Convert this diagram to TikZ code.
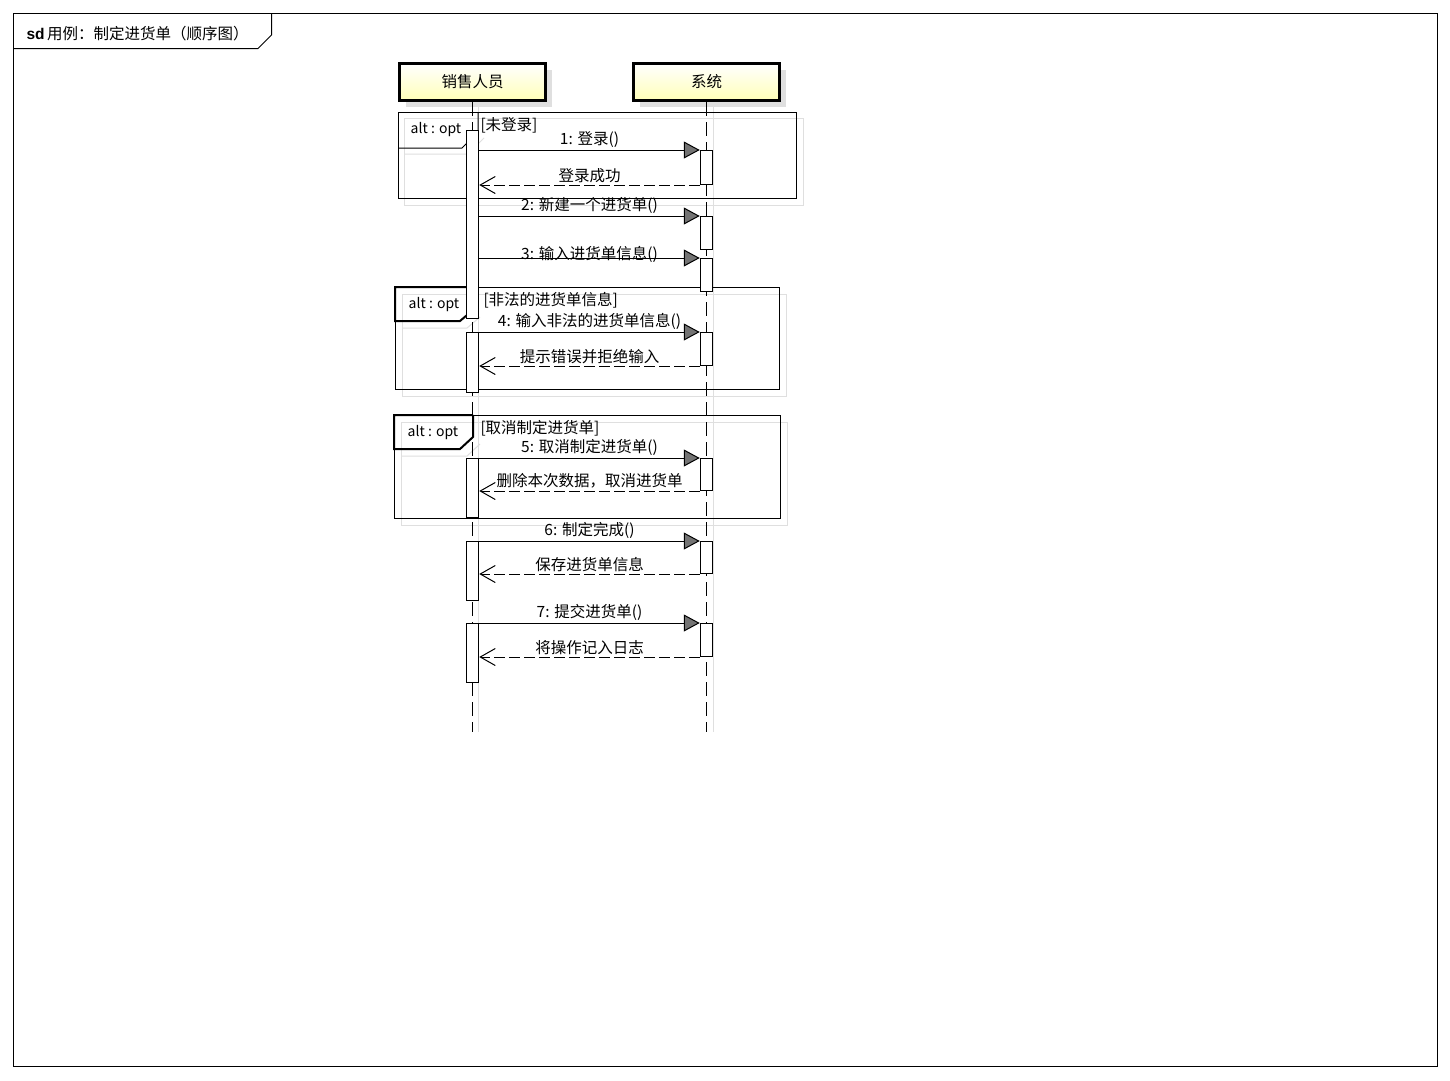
\documentclass[tikz,border=0pt]{standalone}
\usepackage{fontspec}
\setmainfont{Noto Sans CJK SC}
\newfontfamily\sdfont{Liberation Sans}
\usepackage{tikz}
\usetikzlibrary{arrows.meta, shadows}
\colorlet{colorHead}{yellow!28}
\colorlet{colorShade}{gray!25}
\colorlet{colorTip}{black!55}
\tikzset{
  head/.style={draw, line width=3.2pt, minimum width=146pt, minimum height=37pt, top color=white, bottom color=colorHead,
    general shadow={fill=colorShade, shadow xshift=6pt, shadow yshift=-6pt}},
  life/.style={dash pattern=on 14pt off 6pt},
  lifeshade/.style={colorShade},
  act/.style={draw, fill=white, minimum width=12.5pt, inner sep=0pt, anchor=north},
  frag/.style={draw, anchor=north west, inner sep=0pt},
  fragshade/.style={draw=colorShade},
  tab/.style={font=\fontsize{14}{16}\selectfont},
  call/.style={-{Triangle[length=16pt, width=17pt, fill=colorTip]}},
  reply/.style={dash pattern=on 11pt off 4pt, -{Straight Barb[length=15pt, width=17pt]}},
  msg/.style={midway, above=1pt, inner sep=1pt}
}

\begin{document}
\begin{tikzpicture}[x=1pt, y=-1pt, line width=1pt, every node/.style={font=\fontsize{15.5}{18}\selectfont}]
\useasboundingbox[fill=white] (0,0) rectangle (1450,1080);
\draw (13.5,13.5) rectangle (1437.5,1066.5);
\draw (13.5,48.5) -- (258,48.5) -- (271.5,35) -- (271.5,13.5);
\node[anchor=west, inner sep=0pt] (title) at (26,34) {{\sdfont\bfseries sd}\,用例：制定进货单（顺序图）};

\draw[fragshade] (404,118) rectangle (803,205);
\draw[fragshade] (404,154) -- (468,154) -- (484,138);
\draw[fragshade] (402,294) rectangle (786,396);
\draw[fragshade] (402,328) -- (467,328) -- (480,317);
\draw[fragshade] (401,422) rectangle (787,525);
\draw[fragshade] (401,456) -- (467,456) -- (480,444);

\node[head] (seller) at (472.5,82) {销售人员};
\node[head] (system) at (706.5,82) {\raisebox{3pt}{系统}};
\coordinate (sellerEnd) at (472.5,732);
\coordinate (systemEnd) at (706.5,732);
\draw[lifeshade] ([xshift=6pt]seller.south) -- ([xshift=6pt]sellerEnd);
\draw[lifeshade] ([xshift=6.5pt]system.south) -- ([xshift=6.5pt]systemEnd);
\draw[life] (seller) -- (sellerEnd);
\draw[life] (system) -- (systemEnd);

\node[frag, minimum width=398pt, minimum height=86pt] (f1) at (398,112) {};
\draw (f1.north west) ++(0,36) -- ++(64,0) -- ++(16,-16) -- ++(0,-20);
\node[tab] (f1tab) at (436,130) {alt : opt};
\node[anchor=west, inner sep=0pt] (f1cond) at (480,125) {[未登录]};

\node[frag, minimum width=384pt, minimum height=102pt] (f2) at (395,287) {};
\draw[line width=2pt] (f2.north west) ++(78,0) -- ++(-78,0) -- ++(0,34) -- ++(65,0) -- ++(13,-11) -- ++(0,-23);
\node[tab] (f2tab) at (434,305) {alt : opt};
\node[anchor=west, inner sep=0pt] (f2cond) at (483,300) {[非法的进货单信息]};

\node[frag, minimum width=386pt, minimum height=103pt] (f3) at (394,415) {};
\draw[line width=2pt] (f3.north west) ++(79,0) -- ++(-79,0) -- ++(0,34) -- ++(66,0) -- ++(13,-12) -- ++(0,-22);
\node[tab] (f3tab) at (433,433) {alt : opt};
\node[anchor=west, inner sep=0pt] (f3cond) at (480,428) {[取消制定进货单]};

\node[act, minimum height=188pt] (a1) at (472.5,130) {};
\node[act, minimum height=60pt] (a2) at (472.5,332) {};
\node[act, minimum height=59pt] (a3) at (472.5,458) {};
\node[act, minimum height=59pt] (a4) at (472.5,541) {};
\node[act, minimum height=59pt] (a5) at (472.5,623) {};
\node[act, minimum height=34pt] (s1) at (706.5,150) {};
\node[act, minimum height=33pt] (s2) at (706.5,216) {};
\node[act, minimum height=33pt] (s3) at (706.5,258) {};
\node[act, minimum height=33pt] (s4) at (706.5,332) {};
\node[act, minimum height=32pt] (s5) at (706.5,458) {};
\node[act, minimum height=32pt] (s6) at (706.5,541) {};
\node[act, minimum height=33pt] (s7) at (706.5,623) {};

\draw[call] (a1.east |- s1.north) -- node[msg]{1: 登录()} (s1.north west);
\draw[reply] (s1.south west) -- node[msg]{登录成功} (a1.east |- s1.south);
\draw[call] (a1.east |- s2.north) -- node[msg]{2: 新建一个进货单()} (s2.north west);
\draw[call] (a1.east |- s3.north) -- node[midway, above=-6pt, inner sep=1pt]{3: 输入进货单信息()} (s3.north west);
\draw[call] (a2.north east) -- node[msg]{4: 输入非法的进货单信息()} (s4.north west);
\draw[reply] (s4.south west) -- node[msg]{提示错误并拒绝输入} (a2.east |- s4.south);
\draw[call] (a3.north east) -- node[msg]{5: 取消制定进货单()} (s5.north west);
\draw[reply] (s5.south west) -- node[msg]{删除本次数据，取消进货单} (a3.east |- s5.south);
\draw[call] (a4.north east) -- node[msg]{6: 制定完成()} (s6.north west);
\draw[reply] (s6.south west) -- node[msg]{保存进货单信息} (a4.east |- s6.south);
\draw[call] (a5.north east) -- node[msg]{7: 提交进货单()} (s7.north west);
\draw[reply] (s7.south west) -- node[msg]{将操作记入日志} (a5.east |- s7.south);
\end{tikzpicture}
\end{document}
